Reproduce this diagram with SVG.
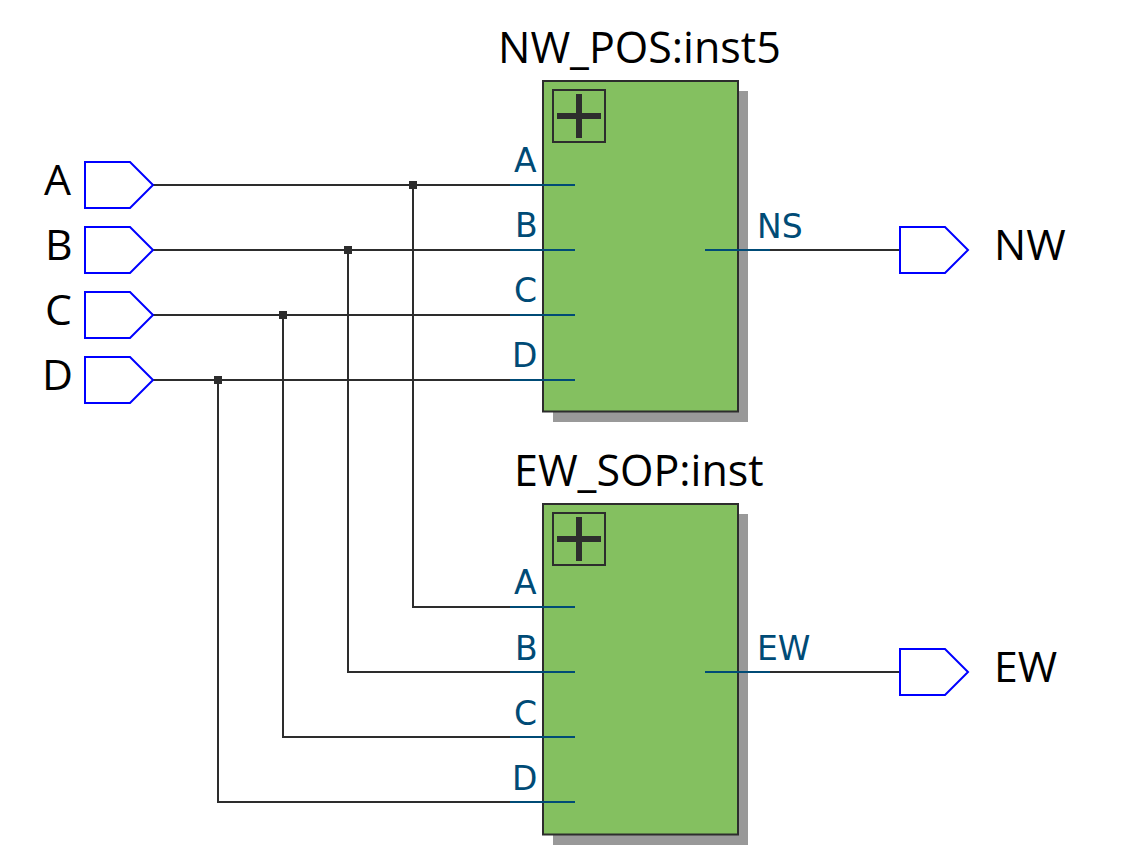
<svg xmlns="http://www.w3.org/2000/svg" width="1139" height="857" viewBox="0 0 1139 857">
<style>
text{font-family:"Open Sans","Noto Sans",sans-serif}
.pin{fill:#fff;stroke:#0000ff;stroke-width:2}
.name{font-size:42.700px;fill:#000}
.title{font-size:43px;fill:#000}
.plabel{font-size:33px;fill:#004b76;font-family:"DejaVu Sans",sans-serif}
.wire{fill:none;stroke:#2d2d2d;stroke-width:2}
.stub{fill:none;stroke:#004b76;stroke-width:2}
.body{fill:#84c060;stroke:#2d2d2d;stroke-width:2}
.shadow{fill:#999}
.pbox{fill:none;stroke:#2d2d2d;stroke-width:2}
.dot{fill:#2d2d2d}
</style>
<defs>
<g id="pinshape"><path class="pin" d="M85 -23H130L153 0L130 23H85Z"/></g>
<g id="plus"><rect class="pbox" x="553" y="0" width="52" height="52"/><path d="M557 23H601V29H557ZM576 4H582V48H576Z" fill="#2d2d2d"/></g>
</defs>
<g id="connectors">
<path class="wire" d="M153 185H510M153 250H510M153 315H510M153 380H510M705 250H900M705 672H900"/>
<path class="wire" d="M413 185V607H510M348 250V672H510M283 315V737H510M218 380V802H510"/>
<rect class="dot" x="409" y="181" width="8" height="8"/>
<rect class="dot" x="344" y="246" width="8" height="8"/>
<rect class="dot" x="279" y="311" width="8" height="8"/>
<rect class="dot" x="214" y="376" width="8" height="8"/>
</g>
<g id="in-A"><use href="#pinshape" y="185"/><text class="name" x="44" y="195">A</text></g>
<g id="in-B"><use href="#pinshape" y="250"/><text class="name" x="45" y="260">B</text></g>
<g id="in-C"><use href="#pinshape" y="315"/><text class="name" x="45" y="325">C</text></g>
<g id="in-D"><use href="#pinshape" y="380"/><text class="name" x="42" y="390">D</text></g>
<g id="inst5">
<rect class="shadow" x="553" y="91" width="195" height="331"/>
<rect class="body" x="543" y="81" width="195" height="330.500"/>
<use href="#plus" y="90"/>
<text class="title" x="498" y="63">NW_POS:inst5</text>
<path class="stub" d="M510 185H575M510 250H575M510 315H575M510 380H575M705 250H770"/>
<text class="plabel" x="514" y="172">A</text>
<text class="plabel" x="515" y="237">B</text>
<text class="plabel" x="514" y="302">C</text>
<text class="plabel" x="512" y="367">D</text>
<text class="plabel" x="757" y="238">NS</text>
</g>
<g id="inst">
<rect class="shadow" x="553" y="514" width="195" height="331"/>
<rect class="body" x="543" y="504" width="195" height="330.500"/>
<use href="#plus" y="513"/>
<text class="title" x="514" y="486">EW_SOP:inst</text>
<path class="stub" d="M510 607H575M510 672H575M510 737H575M510 802H575M705 672H770"/>
<text class="plabel" x="514" y="594">A</text>
<text class="plabel" x="515" y="660">B</text>
<text class="plabel" x="514" y="725">C</text>
<text class="plabel" x="512" y="790">D</text>
<text class="plabel" x="757" y="660">EW</text>
</g>
<g id="out-NW"><use href="#pinshape" x="815" y="250"/><text class="name" x="994" y="260">NW</text></g>
<g id="out-EW"><use href="#pinshape" x="815" y="672"/><text class="name" x="994" y="682">EW</text></g>
</svg>
